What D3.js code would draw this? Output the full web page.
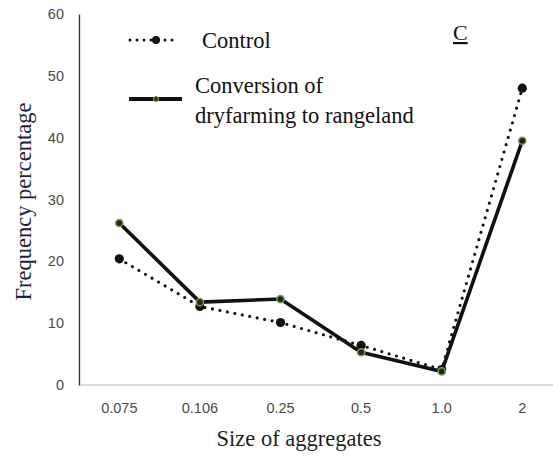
<!DOCTYPE html>
<html>
<head>
<meta charset="utf-8">
<script src="https://cdn.jsdelivr.net/npm/d3@7/dist/d3.min.js"></script>
<style>
  html, body { margin: 0; padding: 0; background: #fff; }
  svg { display: block; }
</style>
</head>
<body>
<svg id="chart" width="553" height="457"></svg>
<script>
// Aggregate size classes (mm) and frequency percentages per treatment
const sizes = ["0.075", "0.106", "0.25", "0.5", "1.0", "2"];
const control = [20.4, 12.7, 10.1, 6.4, 2.5, 48.0];
const conversion = [26.2, 13.4, 13.9, 5.3, 2.2, 39.5];
const yTicks = [0, 10, 20, 30, 40, 50, 60];
const seriesNames = ["Control", "Conversion of", "dryfarming to rangeland"];

const svg = d3.select("#chart");
const W = 553, H = 457;

const margin = { left: 79, top: 14, bottom: 72 };
const x = d3.scaleBand().domain(sizes).range([margin.left, margin.left + 6 * 80.6]);
const y = d3.scaleLinear().domain([0, 60]).range([H - margin.bottom, margin.top]);

const sans = "'Liberation Sans', Arial, sans-serif";
const serif = "'Liberation Serif', 'Times New Roman', serif";

// Horizontal base axis (light grey)
svg.append("line")
  .attr("x1", margin.left).attr("x2", W)
  .attr("y1", y(0)).attr("y2", y(0))
  .attr("stroke", "#d0d0d0").attr("stroke-width", 1.3);

// Vertical axis with tick labels
const yAxis = svg.append("g")
  .attr("transform", `translate(${margin.left},0)`)
  .call(d3.axisLeft(y).tickValues(yTicks).tickSize(0).tickPadding(15));
yAxis.select(".domain").attr("stroke", "#333").attr("stroke-width", 1.3);
yAxis.selectAll("text")
  .attr("font-family", sans).attr("font-size", 14.5).attr("fill", "#4a4a4a");

// Category labels under the plot
const xAxis = svg.append("g")
  .attr("transform", `translate(0,${y(0)})`)
  .call(d3.axisBottom(x).tickSize(0).tickPadding(18));
xAxis.select(".domain").remove();
xAxis.selectAll("text")
  .attr("font-family", sans).attr("font-size", 14.5).attr("fill", "#4a4a4a");

const cx = d => x(d) + x.bandwidth() / 2;
const line = d3.line().x((d, i) => cx(sizes[i])).y(d => y(d));

// Control: dotted line with black circles
svg.append("path")
  .attr("d", line(control))
  .attr("fill", "none").attr("stroke", "#111")
  .attr("stroke-width", 3.2).attr("stroke-linecap", "round")
  .attr("stroke-dasharray", "0 7.6");
svg.selectAll(".mc").data(control).enter().append("circle")
  .attr("cx", (d, i) => cx(sizes[i])).attr("cy", d => y(d))
  .attr("r", 4.6).attr("fill", "#111");

// Conversion: solid thick line with small green-ringed markers
svg.append("path")
  .attr("d", line(conversion))
  .attr("fill", "none").attr("stroke", "#111")
  .attr("stroke-width", 3.6).attr("stroke-linejoin", "round");
svg.selectAll(".mv").data(conversion).enter().append("circle")
  .attr("cx", (d, i) => cx(sizes[i])).attr("cy", d => y(d))
  .attr("r", 3.6).attr("fill", "#1e2a14")
  .attr("stroke", "#7d9a62").attr("stroke-width", 1.5);

// Legend
const lg = svg.append("g");
lg.append("line")
  .attr("x1", 130).attr("x2", 178).attr("y1", 40).attr("y2", 40)
  .attr("stroke", "#111").attr("stroke-width", 3).attr("stroke-linecap", "round")
  .attr("stroke-dasharray", "0 7");
lg.append("circle").attr("cx", 156).attr("cy", 40).attr("r", 4).attr("fill", "#111");
lg.append("text").attr("x", 202).attr("y", 47.5)
  .attr("font-family", serif).attr("font-size", 22.5).attr("fill", "#111")
  .text(seriesNames[0]);
lg.append("line")
  .attr("x1", 129).attr("x2", 182).attr("y1", 99).attr("y2", 99)
  .attr("stroke", "#111").attr("stroke-width", 4.2);
lg.append("circle").attr("cx", 156).attr("cy", 99).attr("r", 2.6)
  .attr("fill", "#2a3a1c").attr("stroke", "#7d9a62").attr("stroke-width", 1);
lg.append("text").attr("x", 195).attr("y", 93)
  .attr("font-family", serif).attr("font-size", 22.5).attr("fill", "#111")
  .text(seriesNames[1]);
lg.append("text").attr("x", 195).attr("y", 123)
  .attr("font-family", serif).attr("font-size", 22.5).attr("fill", "#111")
  .text(seriesNames[2]);

// Panel letter
svg.append("text").attr("x", 453).attr("y", 40)
  .attr("font-family", serif).attr("font-size", 22).attr("fill", "#111")
  .attr("text-decoration", "underline")
  .text("C");

// Axis titles
svg.append("text")
  .attr("transform", `translate(31,${(y(0) + y(60)) / 2 + 2}) rotate(-90)`)
  .attr("text-anchor", "middle")
  .attr("font-family", serif).attr("font-size", 22.5).attr("fill", "#1f1f3a")
  .text("Frequency percentage");
svg.append("text")
  .attr("x", 299).attr("y", 446)
  .attr("text-anchor", "middle")
  .attr("font-family", serif).attr("font-size", 22.5).attr("fill", "#1f1f1f")
  .text("Size of aggregates");
</script>
</body>
</html>
